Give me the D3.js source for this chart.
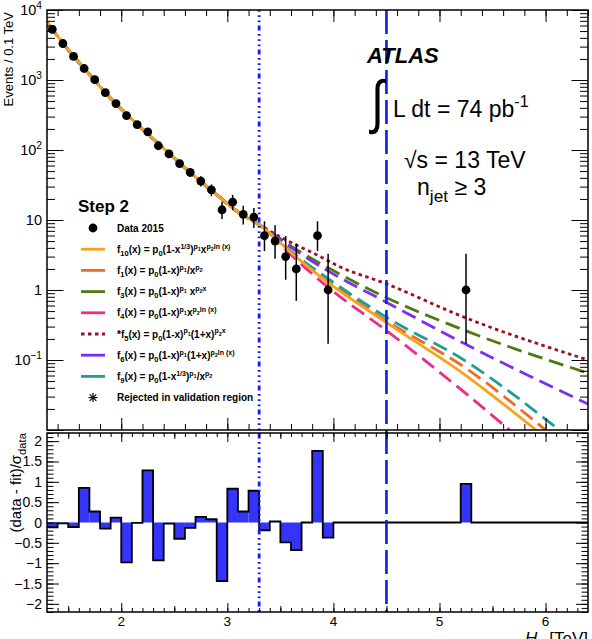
<!DOCTYPE html>
<html>
<head>
<meta charset="utf-8">
<script src="https://cdn.jsdelivr.net/npm/d3@7"></script>
<style>
  body { margin: 0; background: #fff; }
  text { font-family: "Liberation Sans", Arial, Helvetica, sans-serif; }
</style>
</head>
<body>
<div id="chart"></div>
<script>
// data points (bin centres in TeV, events / 0.1 TeV, asymmetric errors)
const dataX = [1.35, 1.45, 1.55, 1.65, 1.75, 1.85, 1.95, 2.05, 2.15, 2.25, 2.35, 2.45, 2.55, 2.65,
  2.75, 2.85, 2.95, 3.05, 3.15, 3.25, 3.35, 3.45, 3.55, 3.65, 3.85, 3.95, 5.25];
const dataY = [5300, 3320, 2170, 1460, 1010, 660, 460, 310, 230, 182, 115, 88, 64, 48,
  36, 27, 14, 18, 12, 11, 6, 5, 3, 2, 6, 1, 1];
const errLo = [73, 58, 47, 38, 32, 26, 21, 18, 15, 13.5, 10.7, 9.4, 8, 6.9,
  6, 5.2, 3.7, 4.2, 3.4, 3.3, 2.4, 2.2, 1.6, 1.3, 2.4, 0.83, 0.83];
const errHi = [73, 58, 47, 38, 32, 26, 21, 18, 15, 13.5, 10.7, 9.4, 8, 6.9,
  6, 5.2, 4.3, 4.8, 4.0, 3.8, 3.6, 3.4, 2.9, 2.6, 3.6, 2.3, 2.3];

// residuals (data - fit)/sigma per bin centre, other bins are 0
const resX = [1.35, 1.45, 1.55, 1.65, 1.75, 1.85, 1.95, 2.05, 2.15, 2.25, 2.35, 2.45, 2.55, 2.65,
  2.75, 2.85, 2.95, 3.05, 3.15, 3.25, 3.35, 3.45, 3.55, 3.65, 3.75, 3.85, 3.95, 5.25];
const resY = [-0.12, -0.02, -0.11, 0.85, 0.27, -0.15, 0.12, -0.98, -0.01, 1.28, -0.93, -0.03, -0.4, -0.13,
  0.14, 0.08, -1.44, 0.83, 0.27, 0.78, -0.19, 0.03, -0.49, -0.68, 0, 1.76, -0.37, 0.95];

// shared fit region (all functions agree here)
const fitX = [1.3, 1.5, 1.7, 1.9, 2.1, 2.3, 2.5, 2.7, 2.9, 3.1, 3.3];
const fitY = [6700, 2700, 1200, 550, 275, 145, 77, 41, 23, 13, 8.6];

// extrapolated tails
const f10X = [3.3, 3.65, 3.96, 4.49, 5.23, 5.91];
const f10Y = [8.6, 2.95, 1.24, 0.35, 0.063, 0.01];
const f1X = [3.3, 3.65, 3.96, 4.49, 5.23, 6.0];
const f1Y = [8.6, 3.0, 1.31, 0.37, 0.080, 0.01];
const f3X = [3.3, 3.65, 3.96, 4.49, 5.23, 6.4];
const f3Y = [8.6, 3.8, 2.04, 0.79, 0.268, 0.065];
const f4X = [3.3, 3.65, 3.96, 4.49, 5.23, 5.66];
const f4Y = [8.6, 2.7, 1.06, 0.27, 0.035, 0.01];
const f5X = [3.3, 3.52, 3.84, 4.06, 4.49, 5.23, 6.4];
const f5Y = [8.6, 5.5, 3.2, 2.15, 1.24, 0.41, 0.10];
const f6X = [3.3, 3.65, 3.96, 4.49, 5.23, 6.4];
const f6Y = [8.6, 3.6, 1.83, 0.68, 0.173, 0.0235];
const f9X = [3.3, 3.65, 3.96, 4.49, 5.23, 6.13];
const f9Y = [8.6, 3.1, 1.42, 0.416, 0.1, 0.01];

// tick labels
const xLabels = [2, 3, 4, 5, 6];
const yTopTicks = [1e4, 1e3, 100, 10, 1, 0.1];
const yTopLabels = [['10', '4'], ['10', '3'], ['10', '2'], ['10', ''], ['1', ''], ['10', '\u22121']];
const yBotTicks = [2, 1.5, 1, 0.5, 0, -0.5, -1, -1.5, -2];
const yBotLabels = ['2', '1.5', '1', '0.5', '0', '\u22120.5', '\u22121', '\u22121.5', '\u22122'];

const W = 592, H = 639;
const svg = d3.select('#chart').append('svg')
  .attr('width', W).attr('height', H);

const x = d3.scaleLinear().domain([1.3, 6.4]).range([47, 588]);
const yTop = d3.scaleLog().domain([0.01, 1e4]).range([430, 10]);
const yBot = d3.scaleLinear().domain([-2.2, 2.2]).range([612, 433]);

svg.append('clipPath').attr('id', 'clipTop')
  .append('rect').attr('x', 47).attr('y', 10).attr('width', 541).attr('height', 420);

// rich text helper: [text, level] level 0 base, -1 sub, 1 sup, 2 sub inside sup
function rich(sel, segs, size) {
  const off = { '0': 0, '-1': 0.3, '1': -0.42, '2': -0.18 };
  const scl = { '0': 1, '-1': 0.75, '1': 0.7, '2': 0.55 };
  let cur = 0;
  segs.forEach(([t, lv]) => {
    const target = off[lv] * size;
    sel.append('tspan')
      .attr('dy', target - cur)
      .attr('font-size', size * scl[lv])
      .text(t);
    cur = target;
  });
  return sel;
}

// ---------- lower panel histogram ----------
const bins = d3.range(51).map(i => {
  const lo = 1.3 + i * 0.1;
  const j = resX.findIndex(c => Math.abs(c - (lo + 0.05)) < 1e-6);
  return { lo, hi: lo + 0.1, v: j < 0 ? 0 : resY[j] };
});

svg.append('g').selectAll('rect')
  .data(bins.filter(b => b.v !== 0))
  .enter().append('rect')
  .attr('x', d => x(d.lo))
  .attr('width', d => x(d.hi) - x(d.lo))
  .attr('y', d => yBot(Math.max(0, d.v)))
  .attr('height', d => Math.abs(yBot(d.v) - yBot(0)))
  .attr('fill', '#3434fb');

const stepPts = bins.map(b => [b.lo, b.v]).concat([[6.4, bins[bins.length - 1].v]]);
svg.append('path')
  .datum(stepPts)
  .attr('fill', 'none')
  .attr('stroke', '#000')
  .attr('stroke-width', 1.8)
  .attr('d', d3.line().x(d => x(d[0])).y(d => yBot(d[1])).curve(d3.curveStepAfter));

// ---------- fit curves ----------
const curves = [
  { name: 'f1', xs: f1X, ys: f1Y, color: '#f26a21', dash: '15,7' },
  { name: 'f3', xs: f3X, ys: f3Y, color: '#4f7a12', dash: '15,7' },
  { name: 'f4', xs: f4X, ys: f4Y, color: '#ee2a8c', dash: '15,7' },
  { name: 'f5', xs: f5X, ys: f5Y, color: '#9e1020', dash: '3.5,3.5' },
  { name: 'f6', xs: f6X, ys: f6Y, color: '#7b2ff0', dash: '15,7' },
  { name: 'f9', xs: f9X, ys: f9Y, color: '#1d9f95', dash: '15,7' },
  { name: 'f10', xs: f10X, ys: f10Y, color: '#f7a21b', dash: null }
];

const curveLine = d3.line()
  .x(d => x(d[0]))
  .y(d => yTop(d[1]))
  .curve(d3.curveMonotoneX);

const fitPts = fitX.map((v, i) => [v, fitY[i]]);
const gCurves = svg.append('g').attr('clip-path', 'url(#clipTop)');
curves.forEach(c => {
  const pts = fitPts.concat(c.xs.slice(1).map((v, i) => [v, c.ys[i + 1]]));
  gCurves.append('path')
    .datum(pts)
    .attr('fill', 'none')
    .attr('stroke', c.color)
    .attr('stroke-width', 2.8)
    .attr('stroke-dasharray', c.dash)
    .attr('d', curveLine);
});

// ---------- vertical lines ----------
svg.append('line')
  .attr('x1', x(3.3)).attr('x2', x(3.3))
  .attr('y1', 10).attr('y2', 612)
  .attr('stroke', '#1a1aff').attr('stroke-width', 2.8)
  .attr('stroke-dasharray', '1.8,3.4,1.8,3.4,1.8,3.4,5,3.4');
svg.append('line')
  .attr('x1', x(4.5)).attr('x2', x(4.5))
  .attr('y1', 10).attr('y2', 612)
  .attr('stroke', '#0a1ee8').attr('stroke-width', 2.6)
  .attr('stroke-dasharray', '24,6');

// ---------- data ----------
const gData = svg.append('g');
dataX.forEach((v, i) => {
  gData.append('line')
    .attr('x1', x(v)).attr('x2', x(v))
    .attr('y1', yTop(dataY[i] - errLo[i]))
    .attr('y2', yTop(dataY[i] + errHi[i]))
    .attr('stroke', '#000').attr('stroke-width', 1.5);
});
gData.selectAll('circle')
  .data(dataX)
  .enter().append('circle')
  .attr('cx', d => x(d))
  .attr('cy', (d, i) => yTop(dataY[i]))
  .attr('r', 4.4)
  .attr('fill', '#000');

// ---------- axes / ticks ----------
function ticks(axisFn, scale, values, size, transform) {
  const g = svg.append('g').attr('transform', transform)
    .call(axisFn(scale).tickValues(values).tickSize(size).tickFormat(''));
  g.select('.domain').remove();
  g.selectAll('.tick line').attr('stroke', '#000').attr('stroke-width', 1);
}

// upper panel
const upMinorX = d3.range(7, 33).map(i => i * 0.2);
ticks(d3.axisBottom, x, upMinorX, -6, 'translate(0,430)');
ticks(d3.axisBottom, x, xLabels, -12, 'translate(0,430)');
ticks(d3.axisTop, x, upMinorX, -6, 'translate(0,10)');
ticks(d3.axisTop, x, xLabels, -12, 'translate(0,10)');
const decades = [0.01, 0.1, 1, 10, 100, 1000];
const upMinorY = [];
decades.forEach(d => { for (let k = 2; k <= 9; k++) upMinorY.push(k * d); });
ticks(d3.axisLeft, yTop, upMinorY, -8, 'translate(47,0)');
ticks(d3.axisLeft, yTop, decades.concat([1e4]), -16.5, 'translate(47,0)');
ticks(d3.axisRight, yTop, upMinorY, -8, 'translate(588,0)');
ticks(d3.axisRight, yTop, decades.concat([1e4]), -16.5, 'translate(588,0)');

// lower panel
const lowMinorX = d3.range(14, 64).map(i => i / 10);
const lowHalfX = [1.5, 2.5, 3.5, 4.5, 5.5];
ticks(d3.axisBottom, x, lowMinorX, -4, 'translate(0,612)');
ticks(d3.axisBottom, x, lowHalfX, -6, 'translate(0,612)');
ticks(d3.axisBottom, x, xLabels, -9, 'translate(0,612)');
ticks(d3.axisTop, x, lowMinorX, -4, 'translate(0,433)');
ticks(d3.axisTop, x, lowHalfX, -6, 'translate(0,433)');
ticks(d3.axisTop, x, xLabels, -9, 'translate(0,433)');
const lowMinorY = d3.range(-22, 23).map(i => i / 10);
ticks(d3.axisLeft, yBot, lowMinorY, -6.5, 'translate(47,0)');
ticks(d3.axisLeft, yBot, yBotTicks, -12, 'translate(47,0)');
ticks(d3.axisRight, yBot, lowMinorY, -6.5, 'translate(588,0)');
ticks(d3.axisRight, yBot, yBotTicks, -12, 'translate(588,0)');

// frames
svg.append('rect').attr('x', 47).attr('y', 10).attr('width', 541).attr('height', 420)
  .attr('fill', 'none').attr('stroke', '#000').attr('stroke-width', 1.5);
svg.append('rect').attr('x', 47).attr('y', 433).attr('width', 541).attr('height', 179)
  .attr('fill', 'none').attr('stroke', '#000').attr('stroke-width', 1.5);

// tick labels
yTopTicks.forEach((v, i) => {
  const t = svg.append('text')
    .attr('x', 42).attr('y', yTop(v) + 5)
    .attr('text-anchor', 'end')
    .attr('font-size', 14.5);
  const [base, exp] = yTopLabels[i];
  if (exp) rich(t, [[base, 0], [exp, 1]], 14.5);
  else t.text(base);
});
yBotTicks.forEach((v, i) => {
  svg.append('text')
    .attr('x', 42).attr('y', yBot(v) + 5)
    .attr('text-anchor', 'end')
    .attr('font-size', 14)
    .text(yBotLabels[i]);
});
xLabels.forEach(v => {
  svg.append('text')
    .attr('x', x(v)).attr('y', 626)
    .attr('text-anchor', 'middle')
    .attr('font-size', 13.5)
    .text(v);
});

// axis titles
svg.append('text')
  .attr('transform', 'translate(12.5,12) rotate(-90)')
  .attr('text-anchor', 'end')
  .attr('font-size', 13)
  .text('Events / 0.1 TeV');
rich(svg.append('text')
  .attr('transform', 'translate(21,433) rotate(-90)')
  .attr('text-anchor', 'end')
  .attr('font-size', 15), [['(data - fit)/\u03c3', 0], ['data', -1]], 15);
const xt = svg.append('text')
  .attr('x', 588).attr('y', 644)
  .attr('text-anchor', 'end')
  .attr('font-size', 17);
xt.append('tspan').attr('font-style', 'italic').text('H');
xt.append('tspan').attr('font-size', 12).attr('dy', 4).text('T');
xt.append('tspan').attr('dy', -4).text(' [TeV]');

// ---------- labels top right ----------
svg.append('text')
  .attr('x', 367).attr('y', 63)
  .attr('font-size', 22).attr('font-weight', 'bold').attr('font-style', 'italic')
  .text('ATLAS');
svg.append('text')
  .attr('transform', 'translate(371,122) scale(1,1.28)')
  .attr('font-family', '"DejaVu Sans"')
  .attr('font-size', 46)
  .text('\u222b');
rich(svg.append('text').attr('x', 393).attr('y', 117).attr('font-size', 23),
  [['L dt = 74 pb', 0], ['-1', 1]], 23);
svg.append('text')
  .attr('x', 404).attr('y', 168)
  .attr('font-size', 23)
  .text('\u221as = 13 TeV');
rich(svg.append('text').attr('x', 417).attr('y', 195).attr('font-size', 23),
  [['n', 0], ['jet', -1], [' \u2265 3', 0]], 23);

// ---------- legend ----------
svg.append('text')
  .attr('x', 78).attr('y', 212)
  .attr('font-size', 17).attr('font-weight', 'bold')
  .text('Step 2');

const legendRows = [
  { color: '#f7a21b', dash: null, segs: [['f', 0], ['10', -1], ['(x) = p', 0], ['0', -1], ['(1-x', 0], ['1/3', 1], [')', 0], ['p', 1], ['1', 2], ['x', 0], ['p', 1], ['2', 2], ['ln (x)', 1]] },
  { color: '#f26a21', dash: null, segs: [['f', 0], ['1', -1], ['(x) = p', 0], ['0', -1], ['(1-x)', 0], ['p', 1], ['1', 2], ['/x', 0], ['p', 1], ['2', 2]] },
  { color: '#4f7a12', dash: null, segs: [['f', 0], ['3', -1], ['(x) = p', 0], ['0', -1], ['(1-x)', 0], ['p', 1], ['1', 2], [' x', 0], ['p', 1], ['2', 2], ['x', 1]] },
  { color: '#ee2a8c', dash: null, segs: [['f', 0], ['4', -1], ['(x) = p', 0], ['0', -1], ['(1-x)', 0], ['p', 1], ['1', 2], ['x', 0], ['p', 1], ['2', 2], ['ln (x)', 1]] },
  { color: '#9e1020', dash: '3.5,3.5', segs: [['*f', 0], ['5', -1], ['(x) = p', 0], ['0', -1], ['(1-x)', 0], ['p', 1], ['1', 2], ['(1+x)', 0], ['p', 1], ['2', 2], ['x', 1]] },
  { color: '#7b2ff0', dash: null, segs: [['f', 0], ['6', -1], ['(x) = p', 0], ['0', -1], ['(1-x)', 0], ['p', 1], ['1', 2], ['(1+x)', 0], ['p', 1], ['2', 2], ['ln (x)', 1]] },
  { color: '#1d9f95', dash: null, segs: [['f', 0], ['9', -1], ['(x) = p', 0], ['0', -1], ['(1-x', 0], ['1/3', 1], [')', 0], ['p', 1], ['1', 2], ['/x', 0], ['p', 1], ['2', 2]] }
];

const lg = svg.append('g');
const rowY = i => 228 + i * 21.2;
lg.append('circle').attr('cx', 93).attr('cy', rowY(0)).attr('r', 4.4).attr('fill', '#000');
lg.append('text').attr('x', 117).attr('y', rowY(0) + 3.6)
  .attr('font-size', 10).attr('font-weight', 'bold').text('Data 2015');

legendRows.forEach((r, i) => {
  const yy = rowY(i + 1);
  lg.append('line')
    .attr('x1', 81).attr('x2', 105).attr('y1', yy).attr('y2', yy)
    .attr('stroke', r.color).attr('stroke-width', 2.8)
    .attr('stroke-dasharray', r.dash);
  rich(lg.append('text').attr('x', 117).attr('y', yy + 3.6)
    .attr('font-size', 10).attr('font-weight', 'bold'), r.segs, 10);
});

// rejected marker (asterisk)
const ry = rowY(8);
[[-4.5, 0, 4.5, 0], [0, -4.5, 0, 4.5], [-3.3, -3.3, 3.3, 3.3], [-3.3, 3.3, 3.3, -3.3]].forEach(s => {
  lg.append('line')
    .attr('x1', 93 + s[0]).attr('y1', ry + s[1])
    .attr('x2', 93 + s[2]).attr('y2', ry + s[3])
    .attr('stroke', '#000').attr('stroke-width', 1.2);
});
lg.append('text').attr('x', 117).attr('y', ry + 3.6)
  .attr('font-size', 10).attr('font-weight', 'bold').text('Rejected in validation region');
</script>
</body>
</html>
